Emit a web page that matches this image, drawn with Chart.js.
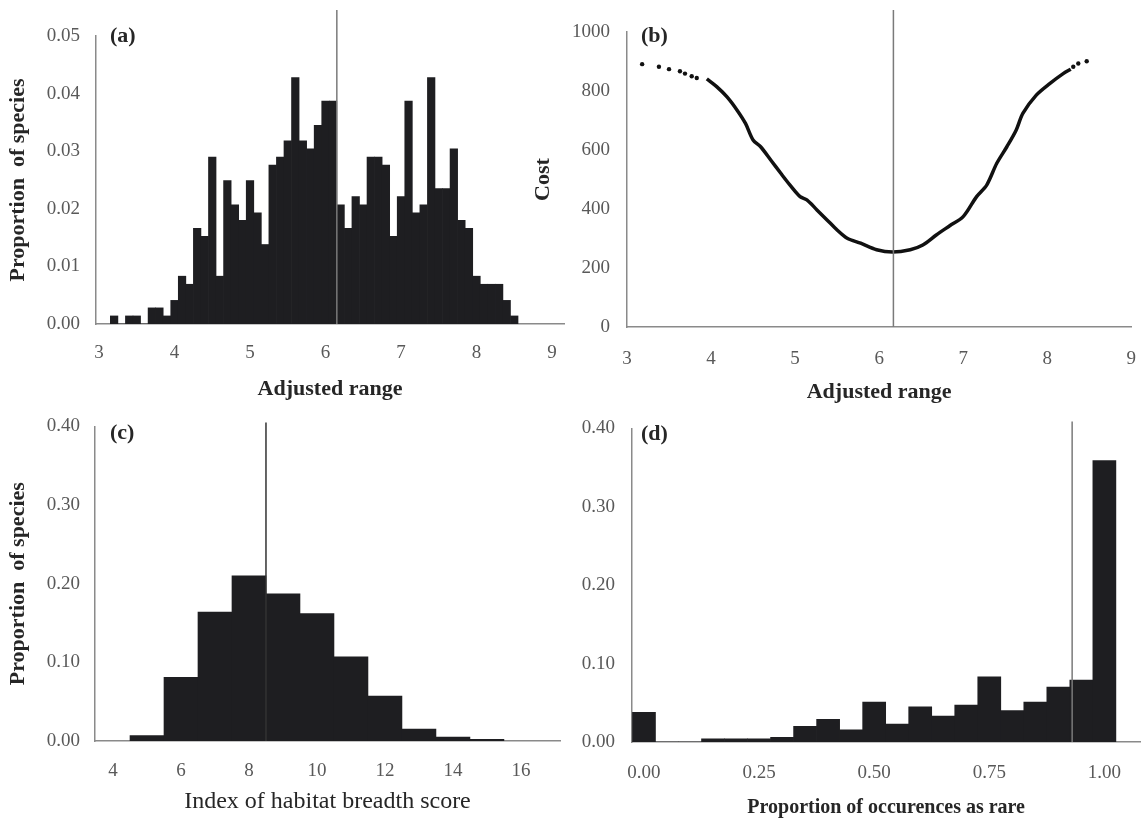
<!DOCTYPE html>
<html>
<head>
<meta charset="utf-8">
<script src="https://cdn.jsdelivr.net/npm/chart.js@4.4.1/dist/chart.umd.min.js"></script>
<style>
body { margin: 0; background: #fff; width: 1141px; height: 820px; overflow: hidden; position: relative; }
.panel { position: absolute; }
</style>
</head>
<body>
<div class="panel" style="left:0;top:0;width:575px;height:410px"><canvas id="cnvRango"></canvas></div>
<div class="panel" style="left:525px;top:0;width:632px;height:410px"><canvas id="cnvCosto"></canvas></div>
<div class="panel" style="left:0;top:400px;width:575px;height:420px"><canvas id="cnvHabitat"></canvas></div>
<div class="panel" style="left:575px;top:400px;width:566px;height:420px"><canvas id="cnvRaro"></canvas></div>
<script>
// (a) adjusted range histogram, bins of 0.1
var rangeBins = [3.2, 3.3, 3.4, 3.5, 3.6, 3.7, 3.8, 3.9, 4.0, 4.1, 4.2, 4.3, 4.4, 4.5, 4.6, 4.7, 4.8, 4.9,
	5.0, 5.1, 5.2, 5.3, 5.4, 5.5, 5.6, 5.7, 5.8, 5.9, 6.0, 6.1, 6.2, 6.3, 6.4, 6.5, 6.6, 6.7, 6.8, 6.9,
	7.0, 7.1, 7.2, 7.3, 7.4, 7.5, 7.6, 7.7, 7.8, 7.9, 8.0, 8.1, 8.2, 8.3, 8.4, 8.5];
var rangeProp = [0.0014, 0, 0.0014, 0.0014, 0, 0.0028, 0.0028, 0.0014, 0.0041, 0.0083, 0.0069, 0.0166, 0.0152, 0.0290, 0.0083, 0.0249, 0.0207, 0.0180,
	0.0249, 0.0193, 0.0138, 0.0276, 0.0290, 0.0318, 0.0428, 0.0318, 0.0304, 0.0345, 0.0387, 0.0387, 0.0207, 0.0166, 0.0221, 0.0207, 0.0290, 0.0290, 0.0276, 0.0152,
	0.0221, 0.0387, 0.0193, 0.0207, 0.0428, 0.0235, 0.0235, 0.0304, 0.0180, 0.0166, 0.0083, 0.0069, 0.0069, 0.0069, 0.0041, 0.0014];
var rangeXTicks = [3, 4, 5, 6, 7, 8, 9];
var rangeYTicks = [0, 0.01, 0.02, 0.03, 0.04, 0.05];
var rangeCut = 6.15;

// (b) cost against adjusted range
var costDotsX = [3.18, 3.38, 3.50, 3.63, 3.69, 3.77, 3.83, 8.31, 8.37, 8.47];
var costDotsY = [891, 882, 874, 867, 859, 850, 844, 882, 893, 901];
var costX = [3.95, 4.07, 4.19, 4.31, 4.41, 4.50, 4.59, 4.71, 4.83, 4.94, 5.06, 5.14, 5.26, 5.38, 5.50, 5.62, 5.78, 5.97,
	6.16, 6.37, 6.52, 6.68, 6.84, 7.00, 7.16, 7.28, 7.40, 7.52, 7.63, 7.71, 7.87, 8.03, 8.19, 8.28];
var costY = [841, 814, 780, 735, 690, 634, 611, 566, 521, 481, 442, 431, 397, 363, 329, 301, 284, 262,
	254, 262, 278, 312, 343, 374, 442, 481, 555, 611, 667, 724, 786, 825, 859, 874];
var costXTicks = [3, 4, 5, 6, 7, 8, 9];
var costYTicks = [0, 200, 400, 600, 800, 1000];
var costCut = 6.17;

// (c) habitat breadth score
var habitatBins = [5, 6, 7, 8, 9, 10, 11, 12, 13, 14, 15];
var habitatProp = [0.007, 0.081, 0.164, 0.210, 0.187, 0.162, 0.107, 0.057, 0.015, 0.005, 0.002];
var habitatXTicks = [4, 6, 8, 10, 12, 14, 16];
var habitatYTicks = [0, 0.1, 0.2, 0.3, 0.4];
var habitatCut = 8.5;

// (d) proportion of occurrences as rare
var rareBins = [0, 0.05, 0.10, 0.15, 0.20, 0.25, 0.30, 0.35, 0.40, 0.45, 0.50, 0.55, 0.60, 0.65, 0.70, 0.75, 0.80, 0.85, 0.90, 0.95, 1.00];
var rareProp = [0.038, 0, 0, 0.004, 0.004, 0.004, 0.006, 0.020, 0.029, 0.0155, 0.051, 0.023, 0.045, 0.033, 0.047, 0.083, 0.040, 0.051, 0.070, 0.079, 0.359];
var rareXTicks = [0, 0.25, 0.5, 0.75, 1];
var rareYTicks = [0, 0.1, 0.2, 0.3, 0.4];
var rareCut = 0.93;

var SERIF = "'Liberation Serif', 'Times New Roman', serif";
var INK = "#1e1e21";
var GRIS = "#8a8a8a";
var TEXTO = "#595959";

function puntos(xs, ys) {
	return xs.map(function(x, i){ return {x: x, y: ys[i]}; });
}

// vertical reference line, runs a little above the plot area
var lineaCorte = {
	id: "lineaCorte",
	afterDatasetsDraw: function(chart, args, opts){
		var x = chart.scales.x.getPixelForValue(opts.value);
		var ctx = chart.ctx;
		ctx.save();
		ctx.strokeStyle = opts.color;
		ctx.lineWidth = 1.5;
		ctx.beginPath();
		ctx.moveTo(x, chart.chartArea.top - opts.sobra);
		ctx.lineTo(x, chart.chartArea.bottom);
		ctx.stroke();
		ctx.restore();
	}
};

// panel letter in the top left corner
var etiqueta = {
	id: "etiqueta",
	afterDraw: function(chart, args, opts){
		var ctx = chart.ctx;
		ctx.save();
		ctx.font = "bold 22px " + SERIF;
		ctx.fillStyle = "#262626";
		ctx.textBaseline = "middle";
		ctx.fillText(opts.text, chart.chartArea.left + opts.dx, chart.chartArea.top + opts.dy);
		ctx.restore();
	}
};

function opciones(c){
	return {
		responsive: true,
		maintainAspectRatio: false,
		animation: false,
		layout: { padding: { top: c.top, right: c.right, left: 0, bottom: 0 } },
		plugins: {
			legend: { display: false },
			tooltip: { enabled: false },
			lineaCorte: { value: c.cut, sobra: c.sobra, color: c.cutColor },
			etiqueta: { text: c.tag, dx: c.tagDx, dy: c.tagDy }
		},
		scales: {
			x: {
				type: "linear",
				offset: false,
				min: c.xMin, max: c.xMax,
				afterBuildTicks: function(s){ s.ticks = c.xTicks.map(function(v){ return {value: v}; }); },
				afterFit: function(s){ s.height = c.xHeight; },
				grid: { display: false, drawTicks: false },
				border: { display: true, color: GRIS, width: 1.5 },
				ticks: { color: TEXTO, padding: c.xPad, maxRotation: 0, autoSkip: false,
					font: { family: SERIF, size: 19 }, callback: c.xFmt },
				title: { display: true, text: c.xTitle, color: "#262626", padding: { top: 0, bottom: c.xTitlePad },
					font: { family: SERIF, size: c.xTitleSize, weight: c.xTitleBold ? "bold" : "normal" } }
			},
			y: {
				min: c.yMin, max: c.yMax,
				afterBuildTicks: function(s){ s.ticks = c.yTicks.map(function(v){ return {value: v}; }); },
				afterFit: function(s){ s.width = c.yWidth; },
				grid: { display: false, drawTicks: false },
				border: { display: true, color: GRIS, width: 1.5 },
				ticks: { color: TEXTO, padding: c.yPad, font: { family: SERIF, size: 19 }, callback: c.yFmt },
				title: { display: !!c.yTitle, text: c.yTitle, color: "#262626", padding: { top: 5, bottom: 0 },
					font: { family: SERIF, size: 22, weight: "bold" } }
			}
		}
	};
}

function dos(v){ return Number(v).toFixed(2); }
function entero(v){ return String(v); }

function histograma(datos){
	return {
		type: "bar",
		data: datos,
		backgroundColor: INK,
		borderWidth: 0,
		barPercentage: 1,
		categoryPercentage: 1
	};
}

new Chart(document.getElementById("cnvRango").getContext("2d"), {
	type: "bar",
	data: { datasets: [histograma(puntos(rangeBins, rangeProp))] },
	options: opciones({
		top: 36, right: 10, xHeight: 86, yWidth: 96, xMin: 2.96, xMax: 9.16, yMin: 0, yMax: 0.05,
		xTicks: rangeXTicks, yTicks: rangeYTicks, xFmt: entero, yFmt: dos, xPad: 18, yPad: 16,
		xTitle: "Adjusted range", xTitleSize: 22, xTitleBold: true, xTitlePad: 7,
		yTitle: "Proportion  of species",
		cut: rangeCut, sobra: 26, cutColor: "#7a7a7a", tag: "(a)", tagDx: 14, tagDy: 0
	}),
	plugins: [lineaCorte, etiqueta]
});

new Chart(document.getElementById("cnvCosto").getContext("2d"), {
	type: "scatter",
	data: {
		datasets: [
			{
				data: puntos(costX, costY),
				showLine: true,
				borderColor: "#111",
				borderWidth: 3.5,
				tension: 0.3,
				pointRadius: 0
			},
			{
				data: puntos(costDotsX, costDotsY),
				showLine: false,
				pointRadius: 2.2,
				pointBackgroundColor: "#111",
				pointBorderWidth: 0
			}
		]
	},
	options: opciones({
		top: 32, right: 0, xHeight: 83, yWidth: 102, xMin: 3, xMax: 9, yMin: 0, yMax: 1000,
		xTicks: costXTicks, yTicks: costYTicks, xFmt: entero, yFmt: entero, xPad: 21, yPad: 17,
		xTitle: "Adjusted range", xTitleSize: 22, xTitleBold: true, xTitlePad: 4,
		yTitle: "Cost",
		cut: costCut, sobra: 22, cutColor: "#7a7a7a", tag: "(b)", tagDx: 14, tagDy: 4
	}),
	plugins: [lineaCorte, etiqueta]
});

new Chart(document.getElementById("cnvHabitat").getContext("2d"), {
	type: "bar",
	data: { datasets: [histograma(puntos(habitatBins, habitatProp))] },
	options: opciones({
		top: 23, right: 15, xHeight: 79, yWidth: 95, xMin: 3.47, xMax: 17.15, yMin: 0, yMax: 0.4,
		xTicks: habitatXTicks, yTicks: habitatYTicks, xFmt: entero, yFmt: dos, xPad: 19, yPad: 15,
		xTitle: "Index of habitat breadth score", xTitleSize: 24, xTitleBold: false, xTitlePad: 4,
		yTitle: "Proportion  of species",
		cut: habitatCut, sobra: 4, cutColor: "#333", tag: "(c)", tagDx: 15, tagDy: 7
	}),
	plugins: [lineaCorte, etiqueta]
});

new Chart(document.getElementById("cnvRaro").getContext("2d"), {
	type: "bar",
	data: { datasets: [histograma(puntos(rareBins, rareProp))] },
	options: opciones({
		top: 25, right: 0, xHeight: 78, yWidth: 57, xMin: -0.026, xMax: 1.078, yMin: 0, yMax: 0.4,
		xTicks: rareXTicks, yTicks: rareYTicks, xFmt: dos, yFmt: dos, xPad: 20, yPad: 17,
		xTitle: "Proportion of occurences as rare", xTitleSize: 20, xTitleBold: true, xTitlePad: 0,
		yTitle: "",
		cut: rareCut, sobra: 7, cutColor: "#7a7a7a", tag: "(d)", tagDx: 9, tagDy: 6
	}),
	plugins: [lineaCorte, etiqueta]
});
</script>
</body>
</html>
